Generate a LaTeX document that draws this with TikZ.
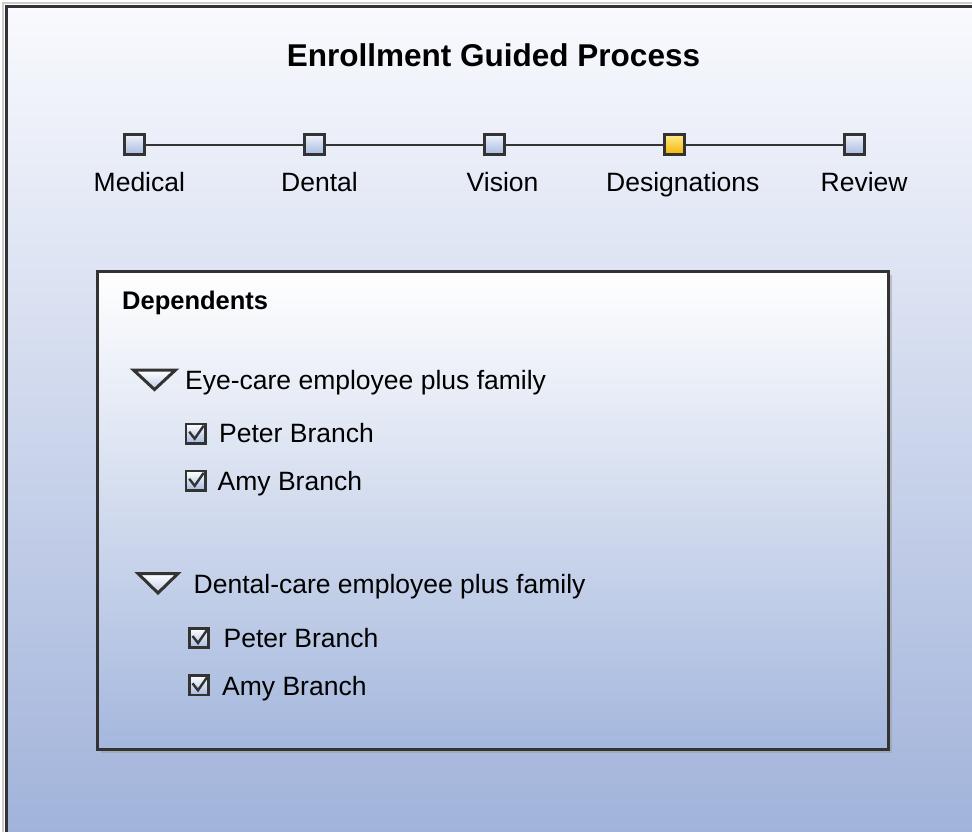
\documentclass[tikz,border=0pt]{standalone}
\usepackage{fontspec}
\setmainfont{Liberation Sans}
\definecolor{bgtop}{HTML}{F9FAFE}
\definecolor{bgbot}{HTML}{A0B2DA}
\definecolor{frame}{HTML}{333333}
\definecolor{boxbot}{HTML}{A4B7DD}
\definecolor{sqtop}{HTML}{EEF2FA}
\definecolor{sqbot}{HTML}{A6B9DF}
\definecolor{ytop}{HTML}{FFEA8C}
\definecolor{ybot}{HTML}{F3B400}
\begin{document}
\begin{tikzpicture}[x=1pt,y=-1pt,
  stepsq/.style={draw=frame, line width=3pt, minimum size=20pt, inner sep=0pt, top color=sqtop, bottom color=sqbot},
  cursq/.style={stepsq, top color=ytop, bottom color=ybot},
  chkbox/.style={draw=frame, line width=2.6pt, minimum size=19.5pt, inner sep=0pt, top color=white, bottom color=sqbot},
  chkmark/.style={draw=frame, line width=2.4pt, line join=miter},
  tri/.style={draw=frame, line width=3pt, line join=miter, top color=white, bottom color=sqbot!70},
  txt/.style={inner sep=0pt, anchor=base west, font=\fontsize{26.5}{30}\selectfont},
  bold/.style={txt, font=\fontsize{25.5}{30}\selectfont\bfseries},
  title/.style={inner sep=0pt, anchor=base, font=\fontsize{31.5}{36}\selectfont\bfseries}
]
\useasboundingbox (0,0) rectangle (972,831);
\fill[white] (0,0) rectangle (972,831);
% outer panel
\draw[black!20, line width=2pt] (2.5,900) -- (2.5,2.5) -- (1000,2.5);
\shade[top color=bgtop, bottom color=bgbot, draw=frame, line width=3pt] (6,6) rectangle (1000,845);
% title
\node[title] (ttl) at (493.5,66) {Enrollment Guided Process};
% steps
\node[stepsq] (s1) at (134.3,144.8) {};
\node[stepsq] (s2) at (314,144.8) {};
\node[stepsq] (s3) at (494,144.8) {};
\node[cursq]  (s4) at (674.3,144.8) {};
\node[stepsq] (s5) at (854,144.8) {};
\foreach \a/\b in {s1/s2,s2/s3,s3/s4,s4/s5}
  \draw[frame, line width=2.5pt] (\a) -- (\b);
\node[txt] (l1) at (93.5,191) {Medical};
\node[txt] (l2) at (281,191) {Dental};
\node[txt] (l3) at (466.5,191) {Vision};
\node[txt] (l4) at (606,191) {Designations};
\node[txt] (l5) at (820.5,191) {Review};
% dependents box
\fill[black!40, opacity=0.5] (101,275) rectangle (892,753);
\shade[top color=white, bottom color=boxbot, draw=frame, line width=3pt] (97,271) rectangle (888,749);
\node[bold] (dep) at (122,309.3) {Dependents};
% group 1
\shade[tri] (133.5,370) -- (175.5,370) -- (154.5,389.5) -- cycle;
\node[txt] (g1) at (185,389.3) {Eye-care employee plus family};
\node[chkbox] (c1) at (195.7,433.7) {};
\node[chkbox] (c2) at (195.7,480.8) {};
\node[txt] (p1) at (219,442.7) {Peter Branch};
\node[txt] (a1) at (217.5,490) {Amy Branch};
% group 2
\shade[tri] (138,573.5) -- (178,573.5) -- (158,593) -- cycle;
\node[txt] (g2) at (193.5,593.3) {Dental-care employee plus family};
\node[chkbox] (c3) at (199,638) {};
\node[chkbox] (c4) at (199,685.3) {};
\node[txt] (p2) at (223.5,647.3) {Peter Branch};
\node[txt] (a2) at (222,695) {Amy Branch};
% check marks
\foreach \c in {c1,c2,c3,c4}
  \draw[chkmark] ([shift={(-6.5,-2)}]\c.center) -- ([shift={(-1,5)}]\c.center) -- ([shift={(8,-8)}]\c.center);
\end{tikzpicture}
\end{document}
